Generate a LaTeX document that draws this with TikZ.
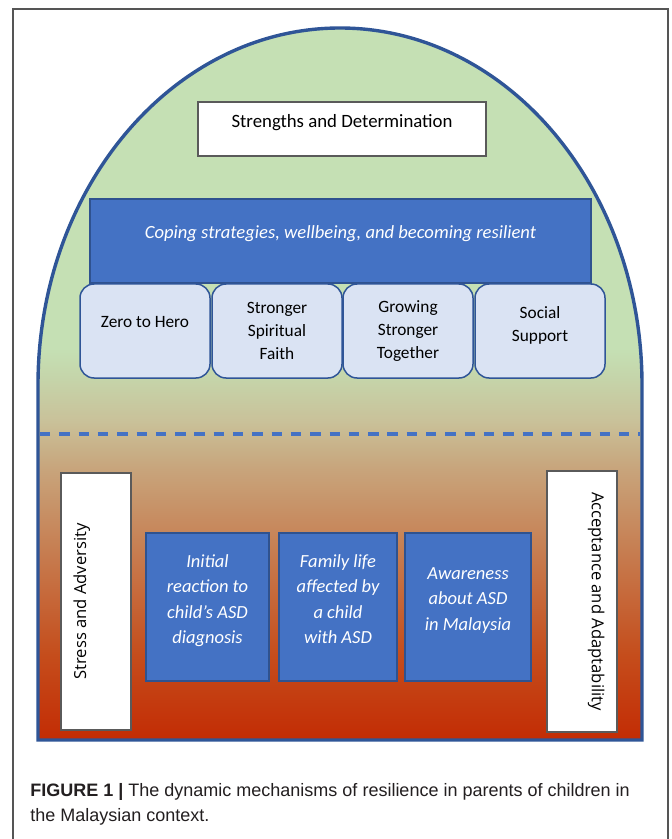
\documentclass[tikz,border=0pt]{standalone}
\usepackage{fontspec}
\setmainfont{Carlito}
\newfontfamily\sidefont{Open Sans}
\newfontfamily\capfont{Liberation Sans}
\definecolor{archgreen1}{HTML}{C5E0B4}
\definecolor{archgreen2}{HTML}{C5D5AA}
\definecolor{archtan1}{HTML}{C9C29A}
\definecolor{archtan2}{HTML}{C8A47B}
\definecolor{archorange1}{HTML}{C6784B}
\definecolor{archorange2}{HTML}{C54D1C}
\definecolor{archred}{HTML}{C32C04}
\definecolor{boxblue1}{HTML}{4472C4}
\definecolor{boxblue2}{HTML}{DAE3F3}
\definecolor{lineblue1}{HTML}{2F5597}
\definecolor{lineblue2}{HTML}{2F528F}
\definecolor{boxgray}{HTML}{5A5A5A}
\definecolor{framegray}{HTML}{555555}
\definecolor{captext}{HTML}{231F20}
\pgfdeclareverticalshading{archshade}{100bp}{color(0bp)=(archred); color(25bp)=(archred);
  color(31bp)=(archorange2); color(37.5bp)=(archorange1); color(44bp)=(archtan2);
  color(47.5bp)=(archtan1); color(50.5bp)=(archgreen2); color(52.5bp)=(archgreen1);
  color(100bp)=(archgreen1)}
\newcommand{\lowdepth}[1]{\rule[-#1]{0pt}{0pt}}

\begin{document}
\begin{tikzpicture}[x=0.5pt, y=-0.5pt,
   whitebox/.style={draw=boxgray, fill=white, line width=0.6pt},
   lightbox/.style={draw=lineblue1, fill=boxblue2, line width=0.75pt, rounded corners=7pt,
      align=center, minimum width=65pt, minimum height=47pt, font=\fontsize{8.65}{11.5}\selectfont},
   bluebox/.style={draw=lineblue2, fill=boxblue1, line width=0.7pt, text=white, align=center,
      minimum height=74pt, font=\fontsize{9.25}{12.75}\selectfont\itshape},
   sidebox/.style={whitebox, minimum height=35pt, font=\sidefont\fontsize{8.3}{10}\selectfont}]
   \useasboundingbox (0,0) rectangle (672,839);
   \fill[white] (0,0) rectangle (672,839);
   % frame of the figure
   \draw[framegray, line width=0.6pt] (13,850) -- (13,9) -- (668,9) -- (668,850);
   % the arch
   \shadedraw[shading=archshade, draw=lineblue1, line width=1.7pt]
      (38,740) -- (38,385) arc[start angle=180, end angle=0, x radius=151pt, y radius=178.5pt]
      -- (642,740) -- cycle;
   \draw[boxblue1, line width=1.6pt, dash pattern=on 5.2pt off 4.45pt] (40,434) -- (640,434);
   % upper half
   \node[whitebox, minimum width=144pt, minimum height=27pt, font=\fontsize{9.4}{11}\selectfont]
      (strength) at (342,129) {Strengths and Determination\lowdepth{8pt}};
   \node[draw=lineblue2, fill=boxblue1, line width=0.7pt, text=white, minimum width=250.5pt,
      minimum height=42pt, font=\fontsize{9.3}{11}\selectfont\itshape]
      (coping) at (340.5,241) {Coping strategies, wellbeing, and becoming resilient\lowdepth{8.5pt}};
   \node[lightbox] (hero) at (145,331) {Zero to Hero\lowdepth{9pt}};
   \node[lightbox] (faith) at (277,331) {Stronger\\Spiritual\\Faith};
   \node[lightbox] (together) at (408,331) {Growing\\Stronger\\Together};
   \node[lightbox] (social) at (540,331) {Social\\Support\lowdepth{7pt}};
   % lower half
   \node[sidebox, rotate=90, minimum width=128.5pt] (stress) at (96,601.5)
      {Stress and Adversity\lowdepth{16.2pt}};
   \node[sidebox, rotate=-90, minimum width=130.5pt] (accept) at (582,601.5)
      {Acceptance and Adaptability\lowdepth{16.2pt}};
   \node[bluebox, minimum width=61.5pt] (initial) at (207.5,607)
      {Initial\\reaction to\\child's ASD\\diagnosis\lowdepth{8pt}};
   \node[bluebox, minimum width=59pt] (family) at (338,607)
      {Family life\\affected by\\a child\\with ASD\lowdepth{8pt}};
   \node[bluebox, minimum width=63pt] (aware) at (468,607)
      {Awareness\\about ASD\\in Malaysia\lowdepth{8pt}};
   % caption
   \node[anchor=west, inner sep=0pt, align=left, text=captext, font=\capfont\fontsize{9}{12.5}\selectfont]
      (caption) at (30,804.5) {\textbf{FIGURE 1 |} The dynamic mechanisms of resilience in parents of children in\\the Malaysian context.};
\end{tikzpicture}
\end{document}
